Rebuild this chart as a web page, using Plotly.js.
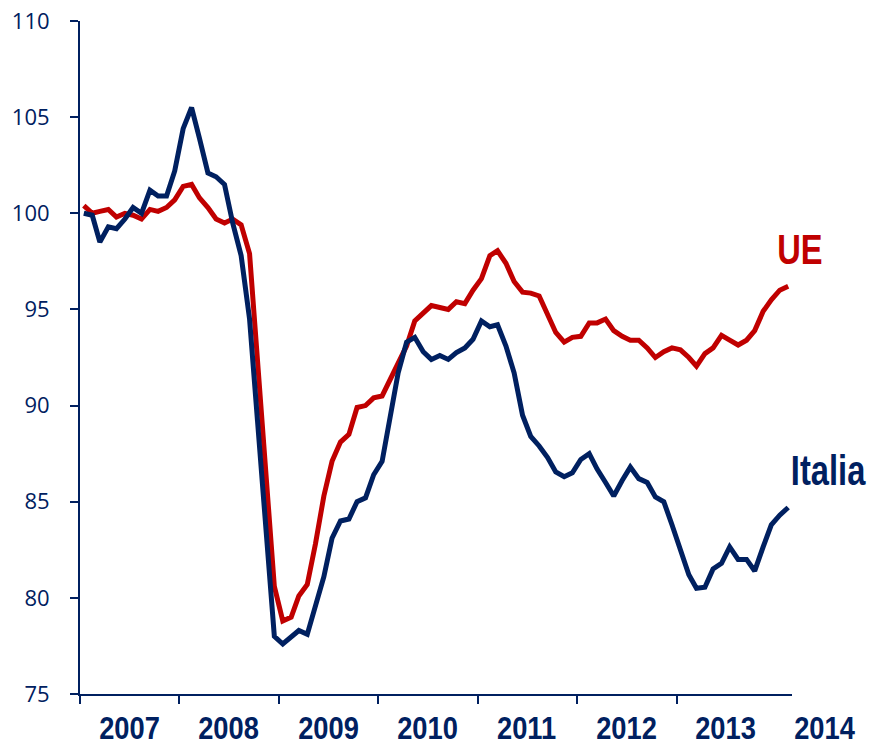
<!DOCTYPE html>
<html>
<head>
<meta charset="utf-8">
<script src="https://cdn.plot.ly/plotly-3.0.1.min.js"></script>
<style>html,body{margin:0;padding:0;background:#fff;}#chart{width:871px;height:745px;}</style>
</head>
<body>
<div id="chart"></div>
<script>
// Monthly index values, Jan 2007 - Feb 2014
var startYear = 2007, startMonth = 0, nMonths = 86;
var yearLabels = ['2007','2008','2009','2010','2011','2012','2013','2014'];

var italia = [
 100.0, 99.9, 98.5, 99.3, 99.2, 99.7, 100.3, 100.0, 101.2, 100.9, 100.9, 102.2,
 104.4, 105.5, 103.9, 102.1, 101.9, 101.5, 99.5, 97.8, 94.5, 89.0, 83.3, 78.0,
 77.6, 78.0, 78.3, 78.1, 79.6, 81.1, 83.1, 84.0, 84.1, 85.0, 85.2, 86.4,
 87.1, 89.4, 91.7, 93.3, 93.55, 92.8, 92.4, 92.6, 92.4, 92.75, 93.0, 93.45,
 94.4, 94.1, 94.2, 93.1, 91.7, 89.5, 88.4, 87.9, 87.3, 86.55, 86.3, 86.5,
 87.2, 87.5, 86.7, 86.0, 85.3, 86.1, 86.8, 86.2, 86.0, 85.25, 85.0, 83.8,
 82.5, 81.2, 80.5, 80.55, 81.5, 81.8, 82.65, 82.0, 82.0, 81.4, 82.65, 83.8,
 84.3, 84.7
];
var ue = [
 100.4, 100.0, 100.1, 100.2, 99.8, 100.0, 99.9, 99.7, 100.2, 100.1, 100.3, 100.7,
 101.4, 101.5, 100.8, 100.3, 99.7, 99.5, 99.7, 99.4, 97.9, 92.0, 86.2, 80.6,
 78.8, 79.0, 80.1, 80.7, 82.8, 85.3, 87.1, 88.1, 88.5, 89.9, 90.0, 90.4,
 90.5, 91.4, 92.2, 93.1, 94.4, 94.8, 95.2, 95.1, 95.0, 95.4, 95.3, 96.0,
 96.6, 97.8, 98.05, 97.4, 96.45, 95.9, 95.85, 95.7, 94.7, 93.8, 93.3, 93.55,
 93.6, 94.3, 94.3, 94.5, 93.9, 93.6, 93.4, 93.4, 93.0, 92.5, 92.8, 93.0,
 92.9, 92.5, 92.05, 92.7, 93.0, 93.65, 93.4, 93.15, 93.4, 93.9, 94.9, 95.5,
 96.0, 96.2
];
var yTicks = [75, 80, 85, 90, 95, 100, 105, 110];

function pad(n){return (n<10?'0':'')+n;}
var months = [];
for (var i = 0; i < nMonths; i++) {
  var y = startYear + Math.floor((startMonth + i) / 12);
  var m = (startMonth + i) % 12 + 1;
  months.push(y + '-' + pad(m) + '-15');
}
var xStart = '2007-01-01', xEnd = '2014-03-01';
var tStart = Date.UTC(2007,0,1), tEnd = Date.UTC(2014,2,1);
var yearTicks = yearLabels.slice(0, 7).map(function(y){return y + '-01-01';});

var NAVY = '#002060', RED = '#C00000';
var bold = '"Liberation Sans", Arial, sans-serif';

var annotations = yearLabels.map(function(y){
  var t = Date.UTC(parseInt(y,10), 6, 1);
  return {
    xref: 'paper', yref: 'paper', x: (t - tStart) / (tEnd - tStart), y: 0,
    yshift: -34, xanchor: 'center', yanchor: 'middle', showarrow: false,
    text: '<b>' + y + '</b>', font: {family: bold, size: 31, color: NAVY}
  };
});
annotations.push({
  xref: 'x', yref: 'y', x: months[nMonths-1], y: ue[nMonths-1],
  xshift: 12, yshift: 37, xanchor: 'center', yanchor: 'middle', showarrow: false,
  text: '<b>UE</b>', font: {family: bold, size: 43, color: RED}
});
annotations.push({
  xref: 'x', yref: 'y', x: months[nMonths-1], y: italia[nMonths-1],
  xshift: 40, yshift: 37, xanchor: 'center', yanchor: 'middle', showarrow: false,
  text: '<b>Italia</b>', font: {family: bold, size: 43, color: NAVY}
});

var traces = [
  {x: months, y: ue, type: 'scatter', mode: 'lines', name: 'UE',
   line: {color: RED, width: 5}},
  {x: months, y: italia, type: 'scatter', mode: 'lines', name: 'Italia',
   line: {color: NAVY, width: 5}}
];

var layout = {
  width: 871, height: 745,
  margin: {l: 80, r: 79, t: 21, b: 51},
  paper_bgcolor: '#fff', plot_bgcolor: '#fff',
  showlegend: false,
  xaxis: {
    type: 'date', range: [xStart, xEnd], tickmode: 'array',
    tickvals: yearTicks, ticktext: yearTicks.map(function(){return '';}),
    ticks: 'outside', ticklen: 8, tickwidth: 2, tickcolor: NAVY,
    showline: true, linecolor: NAVY, linewidth: 2, showgrid: false, zeroline: false
  },
  yaxis: {
    range: [75, 110], tickmode: 'array', tickvals: yTicks,
    ticks: 'outside', ticklen: 8, tickwidth: 2, tickcolor: NAVY,
    ticklabelstandoff: 16,
    tickfont: {family: '"Open Sans", "Noto Sans", sans-serif', size: 22, color: NAVY},
    showline: true, linecolor: NAVY, linewidth: 2, showgrid: false, zeroline: false
  },
  annotations: annotations
};

Plotly.newPlot('chart', traces, layout, {displayModeBar: false, staticPlot: true}).then(function(gd){
  // narrow the bold labels horizontally to mimic the condensed face of the original
  var texts = gd.querySelectorAll('.annotation-text');
  texts.forEach(function(el){
    var t = el.textContent;
    var s = (t === 'UE' || t === 'Italia') ? 0.76 : 0.88;
    el.style.transformBox = 'fill-box';
    el.style.transformOrigin = 'center';
    el.style.transform = 'scaleX(' + s + ')';
  });
});
</script>
</body>
</html>
